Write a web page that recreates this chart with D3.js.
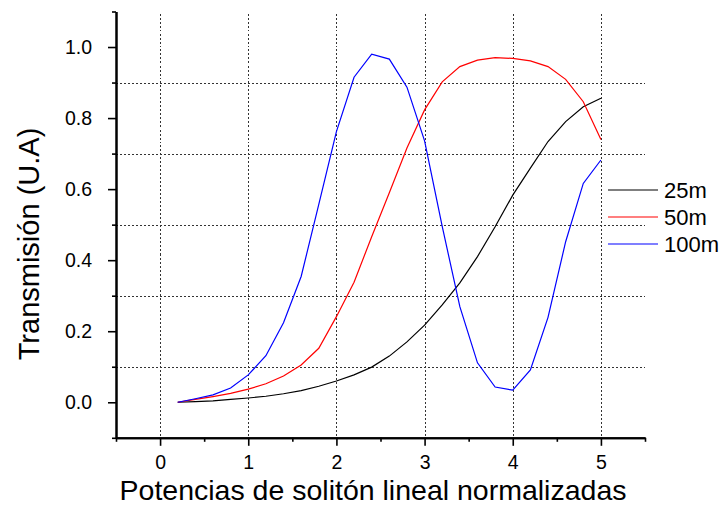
<!DOCTYPE html>
<html>
<head>
<meta charset="utf-8">
<script src="https://cdn.jsdelivr.net/npm/d3@7/dist/d3.min.js"></script>
<style>
  body { margin: 0; background: #fff; }
  svg { display: block; font-family: "Liberation Sans", Arial, sans-serif; }
</style>
</head>
<body>
<svg id="chart" width="719" height="506"></svg>
<script>
// Normalized linear soliton power
const power = [0.2, 0.4, 0.6, 0.8, 1.0, 1.2, 1.4, 1.6, 1.8, 2.0, 2.2, 2.4, 2.6,
               2.8, 3.0, 3.2, 3.4, 3.6, 3.8, 4.0, 4.2, 4.4, 4.6, 4.8, 5.0];

// Transmission for each fiber length
const trans25 = [0.000, 0.002, 0.004, 0.008, 0.012, 0.017, 0.024, 0.033, 0.045, 0.060,
                 0.077, 0.099, 0.130, 0.170, 0.217, 0.274, 0.336, 0.410, 0.494, 0.583,
                 0.659, 0.734, 0.790, 0.832, 0.856];
const trans50 = [0.000, 0.008, 0.016, 0.025, 0.037, 0.052, 0.074, 0.105, 0.152, 0.241,
                 0.338, 0.466, 0.590, 0.716, 0.823, 0.902, 0.945, 0.963, 0.970, 0.968,
                 0.961, 0.945, 0.909, 0.846, 0.740];
const trans100 = [0.000, 0.010, 0.021, 0.040, 0.077, 0.131, 0.224, 0.354, 0.557, 0.762,
                  0.915, 0.980, 0.966, 0.887, 0.736, 0.495, 0.269, 0.111, 0.043, 0.034,
                  0.091, 0.239, 0.452, 0.616, 0.682];

const seriesNames = ["25m", "50m", "100m"];
const seriesColors = ["#000000", "#ff0000", "#0000ff"];
const seriesValues = [trans25, trans50, trans100];

const xTicks = [0, 1, 2, 3, 4, 5];
const xMinorTicks = [-0.5, 0.5, 1.5, 2.5, 3.5, 4.5, 5.5];
const yTicks = [0.0, 0.2, 0.4, 0.6, 0.8, 1.0];
const yMinorTicks = [-0.1, 0.1, 0.3, 0.5, 0.7, 0.9, 1.1];

const xTitle = "Potencias de solitón lineal normalizadas";
const yTitle = "Transmisión (U.A)";

const svg = d3.select("#chart");
const plotLeft = 116, plotRight = 645, plotTop = 11.5, plotBottom = 437.8;

const x = d3.scaleLinear().domain([-0.5, 5.5]).range([plotLeft, plotRight]);
const y = d3.scaleLinear().domain([-0.1, 1.1]).range([plotBottom, plotTop]);

// Grid: dashed verticals at integer powers, dotted horizontals at odd tenths
const grid = svg.append("g").attr("stroke", "#333").attr("stroke-width", 1)
  .attr("stroke-dasharray", "2,2").attr("shape-rendering", "crispEdges");
grid.selectAll("line.v").data(xTicks).join("line").attr("class", "v")
  .attr("x1", d => Math.round(x(d)) + 0.5).attr("x2", d => Math.round(x(d)) + 0.5)
  .attr("y1", plotTop + 2).attr("y2", plotBottom);
grid.selectAll("line.h").data(yMinorTicks.filter(d => d > 0 && d < 1)).join("line").attr("class", "h")
  .attr("y1", d => Math.round(y(d)) + 0.5).attr("y2", d => Math.round(y(d)) + 0.5)
  .attr("x1", plotLeft).attr("x2", plotRight);

// Curves
const line = d3.line().x((d, i) => x(power[i])).y(d => y(d));
svg.append("g").selectAll("path").data(seriesValues).join("path")
  .attr("d", d => line(d))
  .attr("fill", "none")
  .attr("stroke", (d, i) => seriesColors[i])
  .attr("stroke-width", 1.2);

// Axes
const xAxis = svg.append("g").attr("transform", `translate(0,${plotBottom})`)
  .call(d3.axisBottom(x).tickValues(xTicks).tickFormat(d3.format("d")).tickSize(8).tickSizeOuter(0));
const xMinor = svg.append("g").attr("transform", `translate(0,${plotBottom})`)
  .call(d3.axisBottom(x).tickValues(xMinorTicks).tickFormat("").tickSize(4).tickSizeOuter(0));
const yAxis = svg.append("g").attr("transform", `translate(${plotLeft},0)`)
  .call(d3.axisLeft(y).tickValues(yTicks).tickFormat(d3.format(".1f")).tickSize(8).tickSizeOuter(0));
const yMinor = svg.append("g").attr("transform", `translate(${plotLeft},0)`)
  .call(d3.axisLeft(y).tickValues(yMinorTicks).tickFormat("").tickSize(4).tickSizeOuter(0));

[xAxis, xMinor, yAxis, yMinor].forEach(g => {
  g.selectAll("path.domain").attr("stroke", "#000").attr("stroke-width", 2);
  g.selectAll(".tick line").attr("stroke", "#000").attr("stroke-width", 1.6);
  g.selectAll(".tick text").attr("fill", "#000").attr("font-size", 19.5)
    .attr("font-family", "'Liberation Sans', Arial, sans-serif");
});
xAxis.selectAll(".tick text").attr("dy", "0.71em").attr("y", 17);
yAxis.selectAll(".tick text").attr("x", -24);

// Axis titles
svg.append("text").attr("x", 373).attr("y", 500).attr("text-anchor", "middle")
  .attr("font-size", 28.5).text(xTitle);
svg.append("text").attr("transform", "translate(39,244) rotate(-90)")
  .attr("text-anchor", "middle").attr("font-size", 29).text(yTitle);

// Legend
const legend = svg.append("g");
const legY = [190, 217, 244];
seriesNames.forEach((name, i) => {
  legend.append("line").attr("x1", 608).attr("x2", 658)
    .attr("y1", legY[i]).attr("y2", legY[i])
    .attr("stroke", seriesColors[i]).attr("stroke-width", 1.2);
  legend.append("text").attr("x", 664).attr("y", legY[i]).attr("dy", "0.35em")
    .attr("font-size", 22).text(name);
});
</script>
</body>
</html>
